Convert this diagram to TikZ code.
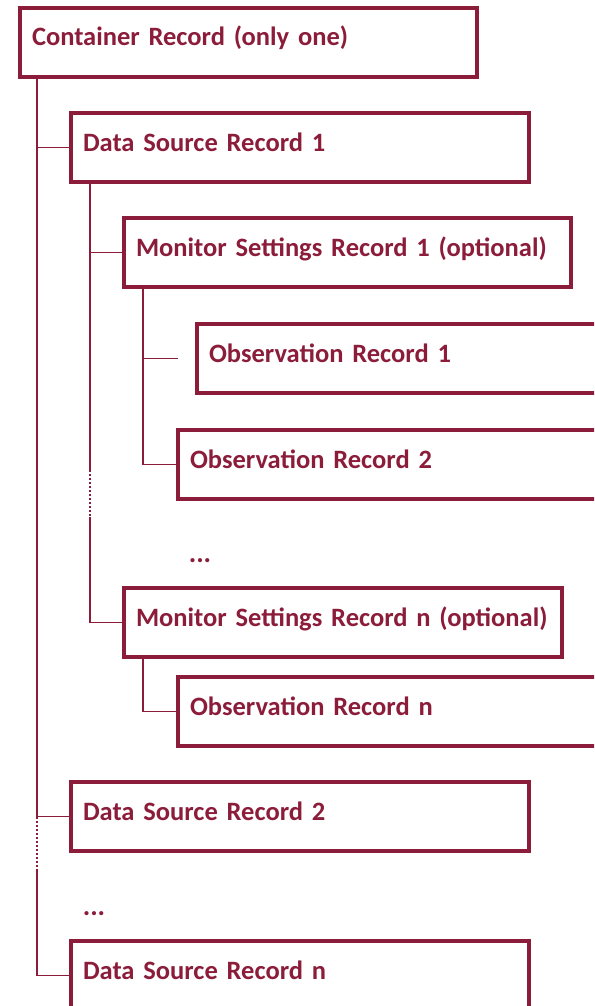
\documentclass[tikz,border=0pt]{standalone}
\usepackage{fontspec}
\setmainfont{Carlito}
\usetikzlibrary{positioning,calc}
\definecolor{recordred}{RGB}{139,29,58}
\tikzset{
    record/.style={draw=recordred, line width=4pt, outer sep=0pt, anchor=north west,
        minimum width=#1, minimum height=69pt, inner xsep=12pt, inner ysep=0pt,
        text width=#1-24pt, align=left, text height=18pt, text depth=11pt,
        text=recordred, font=\fontsize{26.5}{30}\selectfont\bfseries},
    branch/.style={draw=recordred, line width=1.5pt},
    gap/.style={draw=recordred, line width=1.8pt, dash pattern=on 2pt off 2pt},
    more/.style={text=recordred, font=\fontsize{28}{30}\selectfont\bfseries}
}
\begin{document}
\begin{tikzpicture}[x=1pt,y=-1pt]
    \useasboundingbox (0,0) rectangle (594,1006);
    \clip (0,0) rectangle (594,1006);

    % Draw record boxes.
    \node[record=457] (cont) at (20,8) {Container Record (only one)};
    \node[record=458] (src1) at (71,113) {Data Source Record 1};
    \node[record=447] (msr1) at (124,218) {Monitor Settings Record 1 (optional)};
    \node[record=420] (obs1) at (197,324) {Observation Record 1};
    \node[record=440] (obs2) at (178,430) {Observation Record 2};
    \node[record=438] (msrn) at (124,588) {Monitor Settings Record n (optional)};
    \node[record=440] (obsn) at (178,677) {Observation Record n};
    \node[record=458] (src2) at (71,782) {Data Source Record 2};
    \node[record=458] (srcn) at (71,941) {Data Source Record n};
    \node[more] (more1) at (200,561) {...};
    \node[more] (more2) at (94,914) {...};

    % Draw the tree lines.
    \coordinate (trunkgap) at (37,869);
    \coordinate (lanetop) at (90,470);
    \coordinate (lanebot) at (90,517);
    \coordinate (obs1stub) at ($(obs1.west)+(-19,0)$);
    \draw[branch] ([xshift=17pt]cont.south west) coordinate (trunk) |- (src1.west);
    \draw[branch] (trunk) |- (src2.west);
    \draw[gap] (trunk |- src2.west) -- (trunkgap);
    \draw[branch] (trunkgap) |- (srcn.west);
    \draw[branch] ([xshift=19pt]src1.south west) coordinate (lane) |- (msr1.west);
    \draw[branch] (lane) -- (lanetop);
    \draw[gap] (lanetop) -- (lanebot);
    \draw[branch] (lanebot) |- (msrn.west);
    \draw[branch] ([xshift=19pt]msr1.south west) coordinate (sub) |- (obs2.west);
    \draw[branch] (sub |- obs1stub) -- (obs1stub);
    \draw[branch] ([xshift=19pt]msrn.south west) |- (obsn.west);
\end{tikzpicture}
\end{document}
